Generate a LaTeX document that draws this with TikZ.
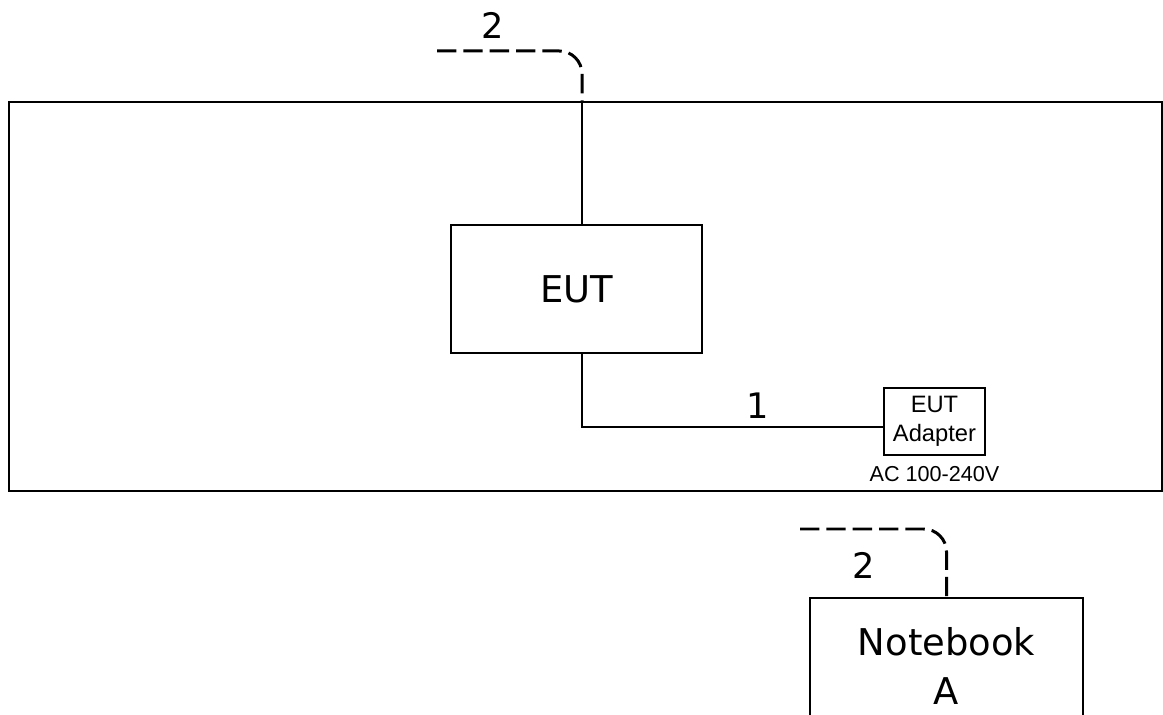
\documentclass[tikz,border=0pt]{standalone}
\usepackage{fontspec}
\setmainfont{DejaVu Sans}
\newfontfamily\arialfont{Liberation Sans}
\usetikzlibrary{positioning}

\begin{document}
\begin{tikzpicture}[x=0.02cm,y=-0.02cm,line width=1.1pt,
	unit/.style={draw,rectangle,font=\fontsize{21}{28.4}\selectfont},
	cable/.style={dash pattern=on 11pt off 4pt,line width=1.7pt,rounded corners=13pt},
	num/.style={inner sep=0pt,font=\fontsize{20}{24}\selectfont}]
			\useasboundingbox (0,0) rectangle (1163,715);
			\clip (0,0) rectangle (1163,715);

			% room and units
			\node[draw,minimum width=23.06cm,minimum height=7.78cm] (room) at (585.5,296.5) {};
			\node[unit,minimum width=5.02cm,minimum height=2.56cm] (eut) at (576.5,289) {EUT};
			\node[draw,align=center,inner sep=1pt,minimum width=2.02cm,minimum height=1.34cm,
				font=\arialfont\fontsize{13.5}{16.4}\selectfont] (adp) at (934.5,421.5) {EUT\\Adapter};
			\node[inner sep=0pt,font=\arialfont\fontsize{12.3}{14}\selectfont] (ac) [below=5.5pt of adp] {AC 100-240V};
			\node[unit,align=center,minimum width=5.46cm,minimum height=2.72cm] (nb) at (946.5,666) {Notebook\\A};

			% cables
			\coordinate (c2a) at (437,51);
			\coordinate (w2) at (582,102);
			\coordinate (k1) at (582,427);
			\coordinate (c2b) at (800,529);
			\draw[cable] (c2a) -- (c2a -| w2) -- (w2);
			\draw (w2) -- (w2 |- eut.north);
			\draw (w2 |- eut.south) -- (k1) -- (k1 -| adp.west);
			\draw[cable] (c2b) -- (c2b -| nb.north) -- (nb.north);

			\node[num] (n2a) at (493,25) {2};
			\node[num] (n1) at (758,406) {1};
			\node[num] (n2b) at (864,565) {2};
\end{tikzpicture}
\end{document}
